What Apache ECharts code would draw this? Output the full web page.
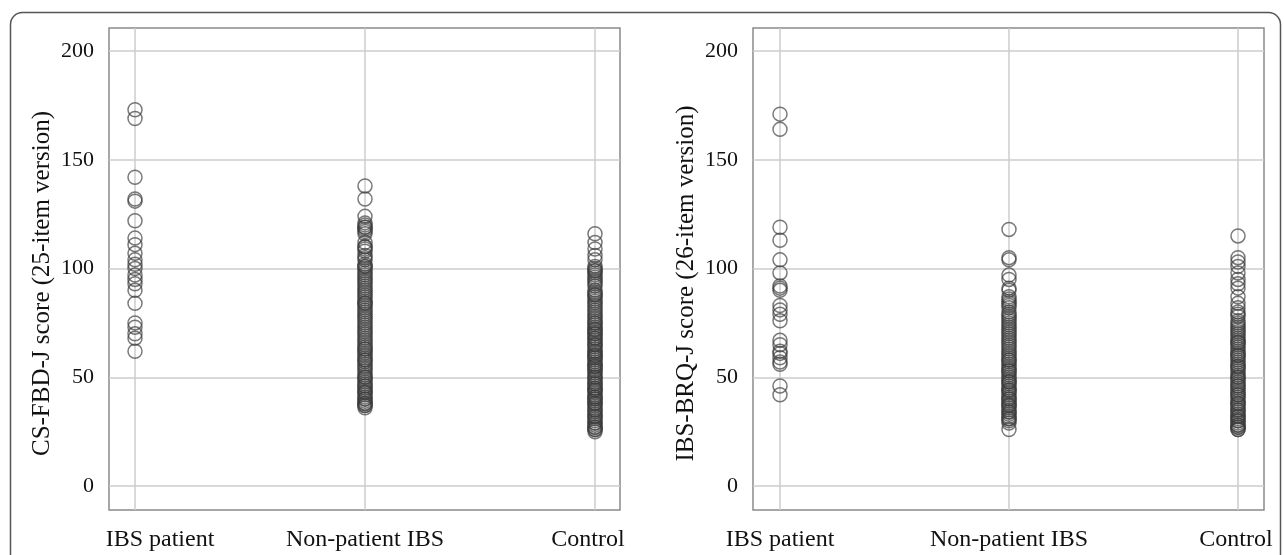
<!DOCTYPE html>
<html><head><meta charset="utf-8">
<script src="https://cdn.jsdelivr.net/npm/echarts@6/dist/echarts.min.js"></script>
<style>html,body{margin:0;padding:0;background:#fff}#c{width:1284px;height:555px}</style>
</head><body><div id="c"></div>
<script>
const categories = ['IBS patient', 'Non-patient IBS', 'Control'];
const yTicks = [0, 50, 100, 150, 200];
const leftTitle = 'CS-FBD-J score (25-item version)';
const rightTitle = 'IBS-BRQ-J score (26-item version)';

// Left panel: CS-FBD-J
const ibs1 = [173, 169, 142, 132, 131, 122, 114, 111, 107, 104, 102, 100, 97, 95, 93, 90, 84, 75, 73, 70, 68, 62];
const np1 = [138, 132, 124, 121, 120, 119, 118, 117, 116, 112, 110, 109, 108, 106, 105, 104, 102, 101, 100, 99, 98, 96, 95, 94, 92, 91, 90, 89, 88, 86, 85, 84, 83, 82, 80, 79, 77, 76, 75, 74, 72, 71, 70, 69, 68, 66, 65, 64, 63, 62, 61, 60, 59, 58, 57, 56, 55, 54, 52, 51, 50, 49, 48, 47, 46, 45, 44, 43, 42, 41, 40, 39, 38, 37, 36, 119, 110, 101, 97, 93, 87, 84, 81, 78, 73, 67, 63, 58, 53, 50, 46, 43, 40, 38, 37];
const ctl1 = [116, 112, 109, 106, 104, 101, 100, 99, 98, 97, 96, 95, 93, 92, 90, 89, 88, 87, 86, 85, 84, 82, 81, 80, 79, 78, 77, 76, 75, 74, 73, 72, 71, 70, 69, 68, 67, 66, 65, 64, 63, 62, 61, 60, 59, 58, 57, 56, 55, 54, 53, 52, 51, 50, 49, 48, 47, 46, 45, 44, 43, 42, 41, 40, 39, 38, 37, 36, 35, 34, 33, 32, 31, 30, 29, 28, 27, 26, 25, 99, 94, 88, 83, 75, 72, 68, 65, 62, 59, 56, 53, 50, 47, 44, 41, 38, 35, 32, 29, 27, 26, 70, 60, 55, 45, 40];

// Right panel: IBS-BRQ-J
const ibs2 = [171, 164, 119, 113, 104, 98, 92, 91, 90, 83, 81, 79, 76, 67, 65, 62, 61, 59, 57, 56, 46, 42];
const np2 = [118, 105, 104, 97, 95, 91, 90, 87, 86, 85, 83, 82, 80, 79, 78, 76, 75, 74, 73, 72, 70, 69, 68, 67, 66, 65, 64, 62, 61, 60, 59, 58, 57, 56, 55, 54, 53, 52, 51, 50, 49, 48, 47, 46, 45, 44, 43, 42, 41, 40, 39, 38, 37, 36, 35, 34, 33, 32, 31, 30, 29, 26, 84, 77, 71, 63, 58, 53, 48, 44, 40, 37, 34, 31];
const ctl2 = [115, 105, 103, 101, 98, 95, 93, 91, 87, 84, 82, 80, 79, 78, 76, 75, 73, 72, 71, 70, 69, 68, 67, 66, 65, 64, 63, 62, 61, 60, 59, 58, 57, 56, 55, 54, 53, 52, 51, 50, 49, 48, 47, 46, 45, 44, 43, 42, 41, 40, 39, 38, 37, 36, 35, 34, 33, 32, 31, 30, 29, 28, 27, 26, 74, 66, 60, 55, 50, 46, 42, 38, 35, 32, 30, 28, 27, 26];

const FONT = "'Liberation Serif', 'Times New Roman', serif";
const GRID_COLOR = '#cdcdcd';

const chart = echarts.init(document.getElementById('c'), null, {renderer: 'canvas'});

function panel(idx, left, catLeft, catWidth, title, labelShift) {
  const g0 = idx * 3;
  const grids = [
    {left: left, top: 28, width: 511, height: 482, show: true, borderColor: '#8a8a8a', borderWidth: 1.5, backgroundColor: 'transparent'},
    {left: left, top: 51, width: 511, height: 435, show: false},
    {left: catLeft, top: 28, width: catWidth, height: 482, show: false}
  ];
  const xAxes = [
    {gridIndex: g0, type: 'value', show: false, min: 0, max: 1},
    {gridIndex: g0 + 1, type: 'value', show: false, min: 0, max: 1},
    {gridIndex: g0 + 2, type: 'category', data: categories, boundaryGap: false,
      axisLine: {show: false}, axisTick: {show: false},
      axisLabel: {fontFamily: FONT, fontSize: 24, color: '#111', margin: 18, interval: 0,
        formatter: (v, i) => '{c' + i + '|' + v + '}',
        rich: {
          c0: {fontFamily: FONT, fontSize: 24, color: '#111', padding: [0, 0, 0, labelShift[0] > 0 ? labelShift[0] * 2 : 0]},
          c1: {fontFamily: FONT, fontSize: 24, color: '#111'},
          c2: {fontFamily: FONT, fontSize: 24, color: '#111', padding: [0, labelShift[2] < 0 ? -labelShift[2] * 2 : 0, 0, 0]}
        }},
      splitLine: {show: true, lineStyle: {color: GRID_COLOR, width: 1.5}}}
  ];
  const yAxes = [
    {gridIndex: g0, type: 'value', show: false, min: 0, max: 1},
    {gridIndex: g0 + 1, type: 'value', min: yTicks[0], max: yTicks[yTicks.length - 1], interval: 50,
      axisLine: {show: false}, axisTick: {show: false},
      axisLabel: {fontFamily: FONT, fontSize: 22, color: '#111', margin: 15},
      splitLine: {show: true, lineStyle: {color: GRID_COLOR, width: 1.5}},
      name: title, nameLocation: 'middle', nameGap: 54, nameRotate: 90,
      nameTextStyle: {fontFamily: FONT, fontSize: 25, color: '#111', padding: [0, 30, 0, 0]}},
    {gridIndex: g0 + 2, type: 'value', show: false, min: -11, max: 210.6}
  ];
  return {grids, xAxes, yAxes, dataAxis: g0 + 2};
}

const p1 = panel(0, 109, 135, 460, leftTitle, [25, 0, -7]);
const p2 = panel(1, 753, 780, 458, rightTitle, [0, 0, -2]);

function scatter(axisIdx, cat, values) {
  return {
    type: 'scatter', xAxisIndex: axisIdx, yAxisIndex: axisIdx,
    symbol: 'circle', symbolSize: 14,
    itemStyle: {color: 'rgba(0,0,0,0)', borderColor: 'rgba(60,60,60,0.85)', borderWidth: 1.5},
    data: values.map(v => [cat, v]),
    silent: true, animation: false
  };
}

chart.setOption({
  animation: false,
  backgroundColor: '#fff',
  grid: [...p1.grids, ...p2.grids],
  xAxis: [...p1.xAxes, ...p2.xAxes],
  yAxis: [...p1.yAxes, ...p2.yAxes],
  graphic: [{
    type: 'rect', left: 8, top: 10, silent: true, z: -1,
    shape: {width: 1270, height: 600, r: 12},
    style: {fill: 'none', stroke: '#555', lineWidth: 1.5}
  }],
  series: [
    scatter(p1.dataAxis, 0, ibs1),
    scatter(p1.dataAxis, 1, np1),
    scatter(p1.dataAxis, 2, ctl1),
    scatter(p2.dataAxis, 0, ibs2),
    scatter(p2.dataAxis, 1, np2),
    scatter(p2.dataAxis, 2, ctl2)
  ]
});
</script></body></html>
